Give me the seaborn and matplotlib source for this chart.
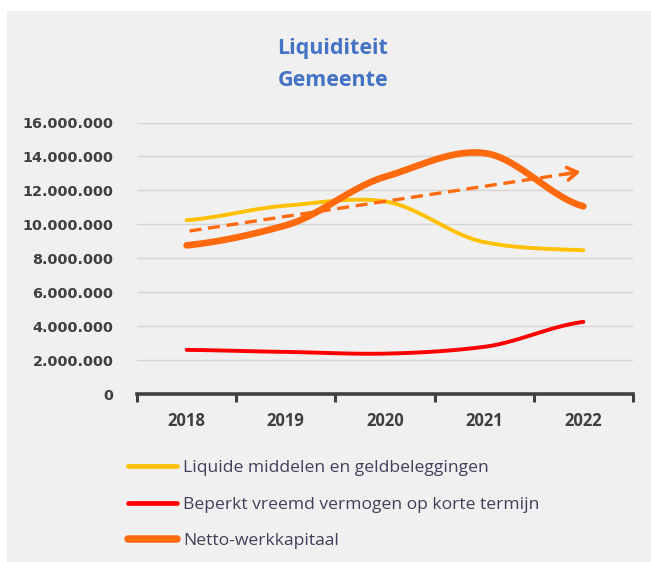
import numpy as np
import pandas as pd
import matplotlib
matplotlib.use("Agg")
import matplotlib.pyplot as plt
from matplotlib.lines import Line2D
from matplotlib.patches import Rectangle
import seaborn as sns

years = ["2018", "2019", "2020", "2021", "2022"]
liquide = [10_240_000, 11_100_000, 11_350_000, 8_950_000, 8_470_000]
beperkt = [2_600_000, 2_480_000, 2_380_000, 2_780_000, 4_250_000]
netto = [8_760_000, 9_940_000, 12_800_000, 14_200_000, 11_060_000]
series_names = [
    "Liquide middelen en geldbeleggingen",
    "Beperkt vreemd vermogen op korte termijn",
    "Netto-werkkapitaal",
]
y_ticks = [0, 2_000_000, 4_000_000, 6_000_000, 8_000_000,
           10_000_000, 12_000_000, 14_000_000, 16_000_000]

colors = ["#FFC000", "#FF0000", "#FF6A0E"]
widths = [2.8, 2.8, 4.8]

sns.set_theme(style="white")
plt.rcParams["font.family"] = ["Open Sans", "DejaVu Sans"]


def smooth(xs, ys, n=30):
    """Catmull-Rom style smoothing through every data point."""
    xs = np.asarray(xs, float)
    ys = np.asarray(ys, float)
    px = np.concatenate([[2 * xs[0] - xs[1]], xs, [2 * xs[-1] - xs[-2]]])
    py = np.concatenate([[ys[0]], ys, [ys[-1]]])
    outx, outy = [], []
    for i in range(1, len(px) - 2):
        t = np.linspace(0, 1, n, endpoint=(i == len(px) - 3))
        p0, p1, p2, p3 = py[i - 1], py[i], py[i + 1], py[i + 2]
        m1 = (p2 - p0) / 2 * 0.8
        m2 = (p3 - p1) / 2 * 0.8
        if i == 1:
            m1 = (p2 - p1) * 0.5
        if i == len(px) - 3:
            m2 = (p2 - p1) * 0.5
        h00 = 2 * t**3 - 3 * t**2 + 1
        h10 = t**3 - 2 * t**2 + t
        h01 = -2 * t**3 + 3 * t**2
        h11 = t**3 - t**2
        outy.append(h00 * p1 + h10 * m1 + h01 * p2 + h11 * m2)
        outx.append(px[i] + t * (px[i + 1] - px[i]))
    return np.concatenate(outx), np.concatenate(outy)


fig = plt.figure(figsize=(6.51, 5.62), dpi=100, facecolor="white")
panel = Rectangle((7 / 651, 0), 1, 1 - 11 / 562, transform=fig.transFigure,
                  facecolor="#F0F0F0", edgecolor="none", zorder=-10)
fig.add_artist(panel)
ax = fig.add_axes([137 / 651, (562 - 394) / 562, (633 - 137) / 651, (394 - 122.5) / 562])
ax.patch.set_alpha(0)
ax.set_zorder(1)

xpos = np.arange(len(years))
for name, vals, c, lw in zip(series_names, [liquide, beperkt, netto], colors, widths):
    sx, sy = smooth(xpos, vals)
    df = pd.DataFrame({"x": sx, "y": sy})
    sns.lineplot(data=df, x="x", y="y", ax=ax, color=c, linewidth=lw,
                 sort=False, estimator=None, solid_capstyle="round", zorder=3)

# Linear trend of the working capital
coef = np.polyfit(xpos, netto, 1)
tx = np.array([0.03, 3.88])
ax.plot(tx, np.polyval(coef, tx), color="#FF6A0E", lw=2.4, ls=(0, (3.6, 2.0)), zorder=4)
ax.annotate("", xy=(4.0, np.polyval(coef, 4.0)), xytext=(3.8, np.polyval(coef, 3.8)),
            arrowprops=dict(arrowstyle="->,head_length=0.6,head_width=0.38",
                            color="#FF6A0E", lw=2.6), zorder=4)

ax.set_xlim(-0.5, 4.5)
ax.set_ylim(0, 16_000_000)
ax.set_yticks(y_ticks)
ax.set_yticklabels([f"{v:,}".replace(",", ".") for v in y_ticks],
                   fontsize=10.4, fontweight="bold", color="#404040", family="DejaVu Sans")
ax.yaxis.grid(True, color="#D4D4D4", lw=1.0)
ax.set_axisbelow(True)
ax.tick_params(axis="y", length=0, pad=17)

ax.set_xticks(np.arange(-0.5, 5.0, 1.0))
ax.set_xticklabels([])
ax.set_xticks(xpos, minor=True)
ax.set_xticklabels(years, minor=True, fontsize=12, fontweight="bold", color="#404040")
ax.tick_params(axis="x", which="major", direction="out", length=6, width=2.2,
               color="#404040", bottom=True)
ax.tick_params(axis="x", which="minor", length=0, pad=13)
ax.set_xlabel("")
ax.set_ylabel("")
for s in ["top", "right", "left"]:
    ax.spines[s].set_visible(False)
ax.spines["bottom"].set_color("#404040")
ax.spines["bottom"].set_linewidth(2.6)

fig.text(333 / 651, 1 - 48.5 / 562, "Liquiditeit", ha="center", va="center",
         fontsize=15.5, fontweight="bold", color="#4472C4")
fig.text(333 / 651, 1 - 80.5 / 562, "Gemeente", ha="center", va="center",
         fontsize=15.5, fontweight="bold", color="#4472C4")

handles = [Line2D([0], [0], color=c, lw=lw, solid_capstyle="round")
           for c, lw in zip(colors, [3.4, 3.4, 5.4])]
leg = fig.legend(handles, series_names, loc="upper left",
                 bbox_to_anchor=(128 / 651, 1 - 460 / 562), frameon=False,
                 fontsize=12.6, handlelength=2.8, handletextpad=0.35, labelspacing=1.15,
                 borderpad=0, borderaxespad=0)
for t in leg.get_texts():
    t.set_color("#40405A")

fig.savefig("out.png", dpi=100, facecolor="white")
